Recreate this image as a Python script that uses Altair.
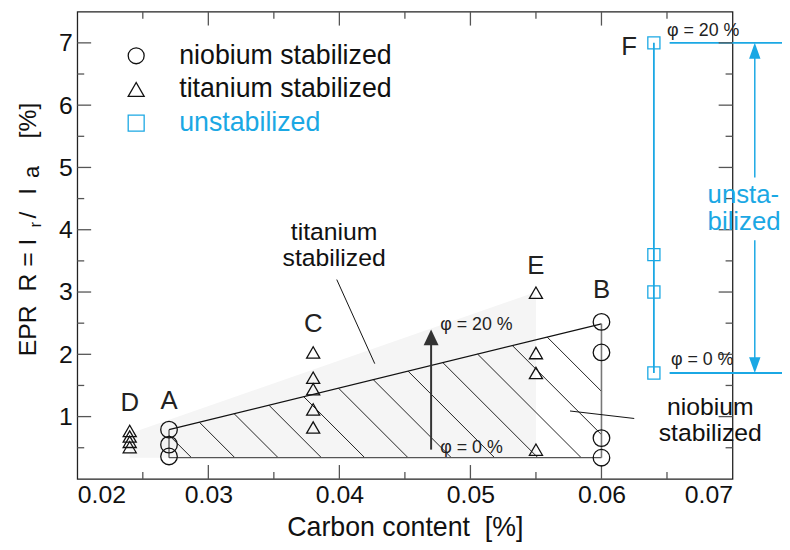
import altair as alt
import pandas as pd

FONT = "Liberation Sans"
BLUE = "#1ba8e4"
INK = "#111111"
TICK = "#555555"
NB = "\u00a0"

# ---------------- data ----------------
series_names = ["niobium stabilized", "titanium stabilized", "unstabilized"]
series_shapes = ["circle", "triangle-up", "square"]
series_colors = [INK, INK, BLUE]

niobium_x = [0.027, 0.027, 0.027, 0.060, 0.060, 0.060, 0.060]
niobium_y = [0.79, 0.55, 0.36, 2.52, 2.03, 0.655, 0.34]

titanium_x = [0.024, 0.024, 0.024, 0.024,
              0.038, 0.038, 0.038, 0.038, 0.038,
              0.055, 0.055, 0.055, 0.055]
titanium_y = [0.77, 0.68, 0.595, 0.51,
              2.03, 1.625, 1.44, 1.115, 0.825,
              2.99, 2.02, 1.70, 0.47]

unstab_x = [0.064, 0.064, 0.064, 0.064]
unstab_y = [7.0, 3.6, 3.0, 1.7]

x_labels = [0.02, 0.03, 0.04, 0.05, 0.06, 0.07]
y_labels = [1, 2, 3, 4, 5, 6, 7]
x_ticks_major = [0.03, 0.04, 0.05, 0.06]
x_ticks_minor = [0.025, 0.035, 0.045, 0.055, 0.065]
y_ticks_major = [1, 2, 3, 4, 5, 6, 7]
y_ticks_minor = [0.5, 1.5, 2.5, 3.5, 4.5, 5.5, 6.5]

point_labels = ["D", "A", "C", "E", "B", "F"]
point_label_x = [0.0240, 0.0270, 0.0380, 0.0550, 0.0600, 0.0621]
point_label_y = [1.21, 1.25, 2.48, 3.41, 3.03, 6.94]

phi_text = ["φ = 20 %", "φ = 0 %", "φ = 20 %", "φ = 0 %"]
phi_x = [0.0477, 0.0477, 0.0650, 0.0653]
phi_y = [2.475, 0.49, 7.19, 1.91]

zone_text = ["titanium", "stabilized", "niobium", "stabilized"]
zone_text_x = [0.0396, 0.0396, 0.0683, 0.0683]
zone_text_y = [3.97, 3.55, 1.16, 0.73]

unst_text = ["unsta-", "bilized"]
unst_text_x = [0.0681, 0.0681]
unst_text_y = [4.56, 4.12]

# hatched niobium zone (corners)
nb_zone_x = [0.027, 0.060]
nb_zone_top = [0.79, 2.49]
nb_zone_bottom = 0.34
# grey titanium zone
ti_zone_x = [0.024, 0.055]
ti_zone_top = [0.73, 3.0]
ti_zone_bottom = [0.34, 0.34]

# leader lines for the zone labels
leader_x = [0.0398, 0.0576]
leader_x2 = [0.0427, 0.0625]
leader_y = [3.20, 1.09]
leader_y2 = [1.85, 0.97]

# phi arrow
phi_arrow_x = [0.047]
phi_arrow_from = [0.47]
phi_arrow_tip = [2.40]

# unstabilized span
unst_span_x = [0.0717]
unst_lo, unst_hi = 1.7, 7.0
unst_gap = [3.83, 4.84]
unst_ref_x = [0.0652, 0.0760]

# ---------------- layout ----------------
W, H = 662, 472
XMIN, XMAX = 0.02, 0.07
YMIN, YMAX = 0.0, 7.5
SX = W / (XMAX - XMIN)
SY = H / (YMAX - YMIN)
HEAD = 16 / SY  # arrow head length in data units

hatch_first, hatch_step, hatch_count = 0.02872, 0.003304, 12

xscale = alt.Scale(domain=[XMIN, XMAX], nice=False, zero=False)
yscale = alt.Scale(domain=[YMIN, YMAX], nice=False, zero=False)
xaxis = alt.Axis(values=x_labels, format=".2f", ticks=False, domain=False, grid=False,
                 labelFont=FONT, labelFontSize=25, labelColor=INK, labelPadding=4,
                 title=f"Carbon content{NB}{NB}[%]", titleFont=FONT, titleFontSize=27,
                 titleFontWeight="normal", titleColor=INK, titlePadding=7)
yaxis = alt.Axis(values=y_labels, format="d", ticks=False, domain=False, grid=False,
                 labelFont=FONT, labelFontSize=25, labelColor=INK, labelPadding=5,
                 title=None)


def X(f="x"):
    return alt.X(f"{f}:Q", scale=xscale, axis=xaxis)


def Y(f="y"):
    return alt.Y(f"{f}:Q", scale=yscale, axis=yaxis)


layers = []

# grey titanium zone
ti_df = pd.DataFrame({"x": ti_zone_x, "y": ti_zone_top, "y2": ti_zone_bottom})
layers.append(alt.Chart(ti_df).mark_area(color="#f5f5f5", opacity=1).encode(
    x=X(), y=Y(), y2="y2:Q"))

# hatch lines inside niobium zone
m = -SX / SY
xl, xr = nb_zone_x
yt0, yt1 = nb_zone_top
yb = nb_zone_bottom
t = (yt1 - yt0) / (xr - xl)
hrows = []
for k in range(hatch_count):
    xb = hatch_first + k * hatch_step
    if xb <= xr:
        x2_, y2_ = xb, yb
    else:
        x2_, y2_ = xr, yb + m * (xr - xb)
        if y2_ >= yt1:
            continue
    xi = (yt0 - t * xl - yb + m * xb) / (m - t)
    if xi < xl:
        x1_, y1_ = xl, yb + m * (xl - xb)
    else:
        x1_, y1_ = xi, yt0 + t * (xi - xl)
    hrows.append({"x": x1_, "y": y1_, "x2": x2_, "y2": y2_})
hatch_df = pd.DataFrame(hrows)
layers.append(alt.Chart(hatch_df).mark_rule(color="#222", strokeWidth=1).encode(
    x=X(), y=Y(), x2="x2:Q", y2="y2:Q"))

# zone outline (top edge dark, other edges grey)
top_df = pd.DataFrame({"x": [xl], "y": [yt0], "x2": [xr], "y2": [yt1]})
layers.append(alt.Chart(top_df).mark_rule(color="#111", strokeWidth=1.3).encode(
    x=X(), y=Y(), x2="x2:Q", y2="y2:Q"))
side_df = pd.DataFrame({"x": [xl, xl], "y": [yb, yb], "x2": [xl, xr], "y2": [yt0, yb]})
layers.append(alt.Chart(side_df).mark_rule(color="#555", strokeWidth=1.3).encode(
    x=X(), y=Y(), x2="x2:Q", y2="y2:Q"))
right_df = pd.DataFrame({"x": [xr], "y": [yb], "y2": [yt1]})
layers.append(alt.Chart(right_df).mark_rule(color="#777", strokeWidth=1.6).encode(
    x=X(), y=Y(), y2="y2:Q"))

# leader lines
lead_df = pd.DataFrame({"x": leader_x, "x2": leader_x2, "y": leader_y, "y2": leader_y2})
layers.append(alt.Chart(lead_df).mark_rule(color="#111", strokeWidth=1).encode(
    x=X(), y=Y(), x2="x2:Q", y2="y2:Q"))

# phi arrow (black)
arr_df = pd.DataFrame({"x": phi_arrow_x, "y": phi_arrow_from, "y2": [v - HEAD * 0.9 for v in phi_arrow_tip]})
layers.append(alt.Chart(arr_df).mark_rule(color="#333", strokeWidth=2).encode(x=X(), y=Y(), y2="y2:Q"))
head_df = pd.DataFrame({"x": phi_arrow_x, "y": phi_arrow_tip})
layers.append(alt.Chart(head_df).mark_point(shape="M0,0L0.47,1L-0.47,1Z", filled=True, size=1024,
                                            color="#333", opacity=1).encode(x=X(), y=Y()))

# unstabilized: vertical connector, reference lines, double arrow
uv_df = pd.DataFrame({"x": [unstab_x[0]], "y": [min(unstab_y)], "y2": [max(unstab_y)]})
layers.append(alt.Chart(uv_df).mark_rule(color=BLUE, strokeWidth=1.8).encode(x=X(), y=Y(), y2="y2:Q"))
uh_df = pd.DataFrame({"x": [unst_ref_x[0]] * 2, "x2": [unst_ref_x[1]] * 2, "y": [unst_hi, unst_lo]})
layers.append(alt.Chart(uh_df).mark_rule(color=BLUE, strokeWidth=1.8).encode(x=X(), x2="x2:Q", y=Y()))
us_df = pd.DataFrame({"x": unst_span_x * 2, "y": [unst_hi - HEAD * 0.9, unst_gap[0]],
                      "y2": [unst_gap[1], unst_lo + HEAD * 0.9]})
layers.append(alt.Chart(us_df).mark_rule(color=BLUE, strokeWidth=1.5).encode(x=X(), y=Y(), y2="y2:Q"))
uh_up = pd.DataFrame({"x": unst_span_x, "y": [unst_hi]})
uh_dn = pd.DataFrame({"x": unst_span_x, "y": [unst_lo]})
layers.append(alt.Chart(uh_up).mark_point(shape="M0,0L0.36,1L-0.36,1Z", filled=True, size=1024,
                                          color=BLUE, opacity=1).encode(x=X(), y=Y()))
layers.append(alt.Chart(uh_dn).mark_point(shape="M0,0L0.36,-1L-0.36,-1Z", filled=True, size=1024,
                                          color=BLUE, opacity=1).encode(x=X(), y=Y()))


# ticks (inward) on all four sides
def xticks(vals, length):
    d = pd.DataFrame({"x": vals})
    b = alt.Chart(d).mark_rule(color=TICK, strokeWidth=1.3).encode(
        x=X(), y=alt.value(H), y2=alt.value(H - length))
    tp = alt.Chart(d).mark_rule(color=TICK, strokeWidth=1.3).encode(
        x=X(), y=alt.value(0), y2=alt.value(length))
    return [b, tp]


def yticks(vals, length):
    d = pd.DataFrame({"y": vals})
    lft = alt.Chart(d).mark_rule(color=TICK, strokeWidth=1.3).encode(
        y=Y(), x=alt.value(0), x2=alt.value(length))
    rgt = alt.Chart(d).mark_rule(color=TICK, strokeWidth=1.3).encode(
        y=Y(), x=alt.value(W), x2=alt.value(W - length))
    return [lft, rgt]


layers += xticks(x_ticks_major, 14) + xticks(x_ticks_minor, 7)
layers += yticks(y_ticks_major, 14) + yticks(y_ticks_minor, 7)

# data points (three layers sharing shape/colour scales -> one legend)
legend = alt.Legend(orient="none", legendX=46, legendY=31, title=None,
                    labelFont=FONT, labelFontSize=27, labelOffset=30, rowPadding=6,
                    symbolSize=260, symbolStrokeWidth=1.3, labelLimit=500,
                    labelColor=alt.ExprRef(expr=f"datum.label == 'unstabilized' ? '{BLUE}' : '{INK}'"))
shape_enc = alt.Shape("series:N", scale=alt.Scale(domain=series_names, range=series_shapes), legend=legend)
color_enc = alt.Color("series:N", scale=alt.Scale(domain=series_names, range=series_colors), legend=legend)
for xs, ys, name, size in [(niobium_x, niobium_y, series_names[0], 280),
                           (titanium_x, titanium_y, series_names[1], 175),
                           (unstab_x, unstab_y, series_names[2], 150)]:
    d = pd.DataFrame({"x": xs, "y": ys, "series": [name] * len(xs)})
    layers.append(alt.Chart(d).mark_point(filled=False, size=size, strokeWidth=1.3, opacity=1).encode(
        x=X(), y=Y(), shape=shape_enc, color=color_enc))

# texts
lab_df = pd.DataFrame({"x": point_label_x, "y": point_label_y, "t": point_labels})
layers.append(alt.Chart(lab_df).mark_text(font=FONT, fontSize=26, color="#222", baseline="middle").encode(
    x=X(), y=Y(), text="t:N"))
phi_df = pd.DataFrame({"x": phi_x, "y": phi_y, "t": phi_text})
layers.append(alt.Chart(phi_df).mark_text(font=FONT, fontSize=18, color="#222", align="left",
                                          baseline="middle").encode(x=X(), y=Y(), text="t:N"))
zone_df = pd.DataFrame({"x": zone_text_x, "y": zone_text_y, "t": zone_text})
layers.append(alt.Chart(zone_df).mark_text(font=FONT, fontSize=25, color=INK, baseline="middle").encode(
    x=X(), y=Y(), text="t:N"))
ut_df = pd.DataFrame({"x": unst_text_x, "y": unst_text_y, "t": unst_text})
layers.append(alt.Chart(ut_df).mark_text(font=FONT, fontSize=26, color=BLUE, align="left",
                                         baseline="middle").encode(x=X(), y=Y(), text="t:N"))

# y-axis title with subscripts (pieces, rotated; positions relative to plot origin)
ytitle_parts = [(f"EPR{NB}{NB}R = I", -42, 348, 25), ("r", -37, 218, 17), ("/", -42, 209, 25),
                ("I", -42, 185, 25), ("a", -39, 168, 22), ("[%]", -42, 128, 25)]
one = pd.DataFrame({"k": [0]})
for txt, px, py, fs in ytitle_parts:
    layers.append(alt.Chart(one).mark_text(font=FONT, fontSize=fs, color=INK, angle=270,
                                           align="left", baseline="alphabetic").encode(
        x=alt.value(px), y=alt.value(py), text=alt.value(txt)))

chart = alt.layer(*layers).properties(
    width=W, height=H,
    autosize=alt.AutoSizeParams(type="none"),
    padding={"left": 70, "top": 1, "right": 50, "bottom": 61},
).configure(font=FONT).configure_view(stroke="#222", strokeWidth=1.3)

chart.save("out.html", embed_options={"renderer": "svg", "actions": False})
